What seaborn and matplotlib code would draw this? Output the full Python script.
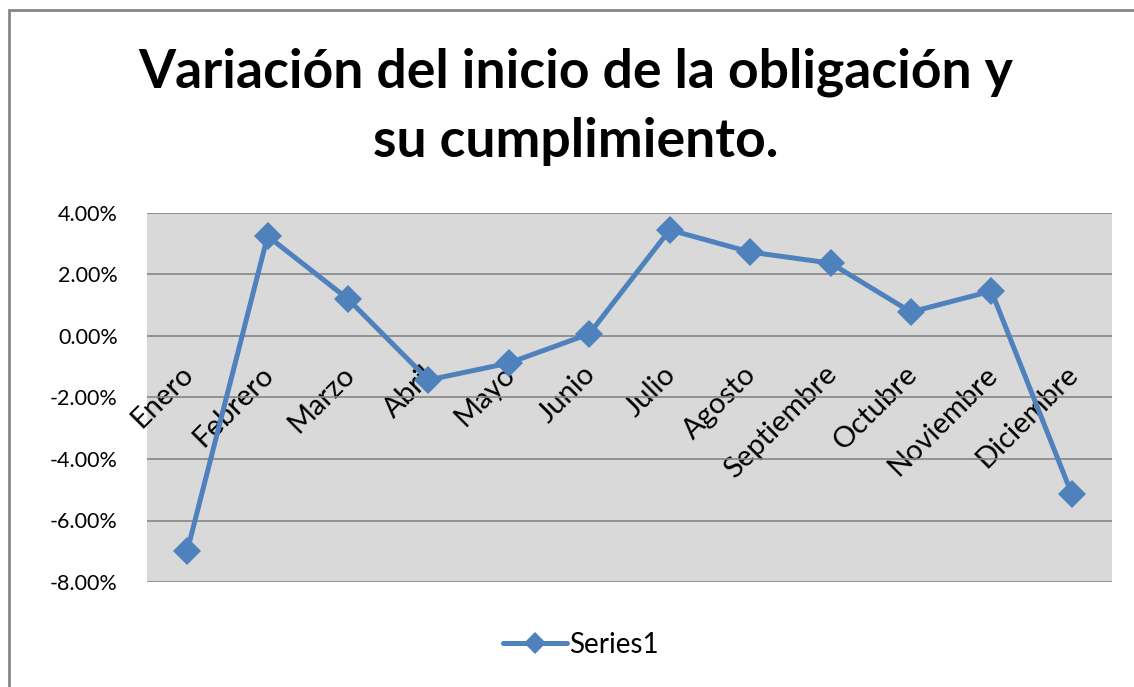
import matplotlib
matplotlib.use("Agg")
import matplotlib.pyplot as plt
import matplotlib.transforms as mtransforms
import seaborn as sns
import pandas as pd
from matplotlib.ticker import FuncFormatter, MultipleLocator
from matplotlib.patches import Rectangle

months = ["Enero", "Febrero", "Marzo", "Abril", "Mayo", "Junio", "Julio",
          "Agosto", "Septiembre", "Octubre", "Noviembre", "Diciembre"]
values = [-6.99, 3.25, 1.20, -1.43, -0.88, 0.07, 3.45, 2.73, 2.37, 0.78, 1.46, -5.14]
series_name = "Series1"
title = "Variación del inicio de la obligación y\nsu cumplimiento."

sns.set_theme(style="white")
plt.rcParams['font.family'] = ['Lato', 'DejaVu Sans']
plt.rcParams['text.color'] = 'black'

df = pd.DataFrame({"x": range(len(months)), "y": values, "s": series_name})

fig = plt.figure(figsize=(11.34, 6.87), dpi=100)
ax = fig.add_axes([147/1134, 1-582/687, (1112-147)/1134, (582-213)/687])
ax.set_facecolor("#D9D9D9")

sns.lineplot(data=df, x="x", y="y", hue="s", palette=["#4F81BD"], marker="D",
             markersize=14, markeredgewidth=0, linewidth=3.6, ax=ax, legend=True)

ax.set_xlim(-0.5, len(months) - 0.5)
ax.set_ylim(-8, 4)
ax.yaxis.set_major_locator(MultipleLocator(2))
ax.yaxis.set_major_formatter(FuncFormatter(lambda v, p: f"{v:.2f}%"))
ax.grid(axis="y", color="#868686", linewidth=1.2)
ax.set_axisbelow(True)
for s in ["top", "right", "left"]:
    ax.spines[s].set_visible(False)
ax.spines["bottom"].set_position(("data", 0))
ax.spines["bottom"].set_visible(False)
ax.set_xticks(range(len(months)))
ax.set_xticklabels(months, rotation=45, ha="right", va="top", rotation_mode="anchor")
ax.tick_params(axis="x", length=0, pad=18, labelsize=21, colors="black")
ax.tick_params(axis="y", length=0, pad=21, labelsize=15.5, colors="black")
offset = mtransforms.ScaledTranslation(-7/100, 0, fig.dpi_scale_trans)
for t in ax.get_xticklabels():
    t.set_transform(t.get_transform() + offset)
ax.set_xlabel("")
ax.set_ylabel("")

fig.text(576/1134, 1-107/687, title, ha="center", va="center", fontsize=38.5,
         fontweight="bold", linespacing=1.5, color="black")

leg = ax.legend(loc="center", bbox_to_anchor=(581/1134, 1-645/687),
                bbox_transform=fig.transFigure, frameon=False, fontsize=20,
                handlelength=2.3, handletextpad=0.1, markerscale=0.8)
for t in leg.get_texts():
    t.set_color("black")

fig.patches.append(Rectangle((9/1134, -0.05), 1.2, 1.05 - 10/687,
                             transform=fig.transFigure, fill=False,
                             edgecolor="#868686", linewidth=2))

fig.savefig("out.png", dpi=100)
